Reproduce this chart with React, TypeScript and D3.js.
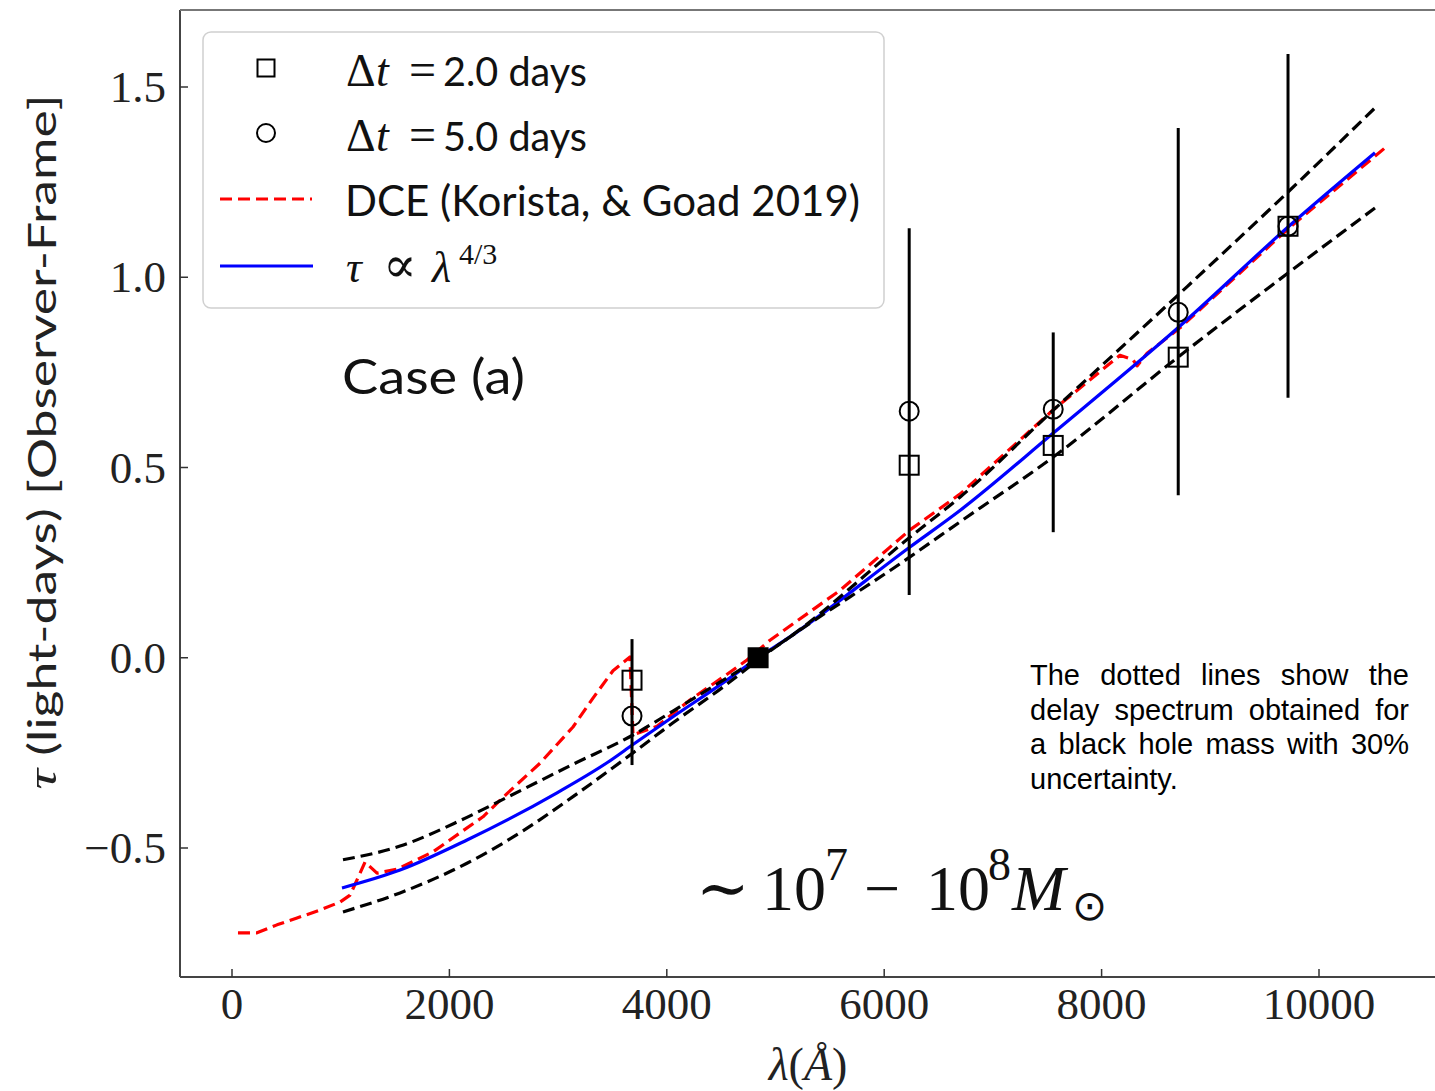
import React, { useLayoutEffect, useRef } from 'react';
import * as d3 from 'd3';

// ---------- data ----------
const xTicks = [0, 2000, 4000, 6000, 8000, 10000];
const yTicks = [-0.5, 0.0, 0.5, 1.0, 1.5];
const yTickLabels = ['\u22120.5', '0.0', '0.5', '1.0', '1.5'];

// DCE (Korista & Goad 2019) – red dashed
const dceCurve: [number, number][] = [
  [55, -0.723], [230, -0.723], [414, -0.702], [598, -0.684], [810, -0.663],
  [994, -0.642], [1086, -0.624], [1178, -0.566], [1224, -0.537], [1334, -0.566],
  [1518, -0.556], [1849, -0.510], [2309, -0.418], [2530, -0.357], [2834, -0.277],
  [3137, -0.182], [3321, -0.106], [3505, -0.034], [3661, 0.002], [3689, -0.203],
  [3910, -0.180], [4213, -0.111], [4517, -0.051], [4738, -0.006], [4949, 0.046],
  [5593, 0.177], [6237, 0.336], [6697, 0.430], [7553, 0.651], [8169, 0.795],
  [8289, 0.783], [8326, 0.767], [8418, 0.800], [8721, 0.867], [9715, 1.127],
  [10607, 1.340],
];

// tau ∝ lambda^(4/3) – blue solid
const powerCurve: [number, number][] = [
  [1012, -0.605], [1546, -0.558], [2162, -0.479], [2990, -0.355], [3450, -0.276],
  [3689, -0.228], [4057, -0.155], [4517, -0.066], [4839, 0.0], [5133, 0.055],
  [6237, 0.291], [6697, 0.387], [7553, 0.590], [8721, 0.872], [9715, 1.132],
  [10515, 1.327],
];

// mass uncertainty envelope – black dashed
const upperCurve: [number, number][] = [
  [1021, -0.531], [1546, -0.495], [2098, -0.428], [2530, -0.367], [3137, -0.280],
  [3689, -0.203], [4057, -0.140], [4370, -0.085], [4673, -0.032], [5133, 0.055],
  [6237, 0.317], [6697, 0.422], [7553, 0.650], [8703, 0.953], [9715, 1.224],
  [10515, 1.445],
];
const lowerCurve: [number, number][] = [
  [1021, -0.668], [1546, -0.618], [2162, -0.540], [2677, -0.455], [3137, -0.365],
  [3689, -0.250], [4057, -0.171], [4517, -0.077], [4839, -0.006], [6237, 0.265],
  [6697, 0.357], [7553, 0.527], [8703, 0.790], [9715, 1.011], [10515, 1.182],
];

// photometric bands
const bandLambda = [3680, 6230, 7555, 8705, 9715];
const errLow = [-0.282, 0.165, 0.330, 0.427, 0.683];
const errHigh = [0.049, 1.129, 0.855, 1.392, 1.587];
const squareLambda = [3680, 6230, 7555, 8705, 9715];
const squareTau = [-0.059, 0.506, 0.558, 0.790, 1.134];
const circleLambda = [3680, 6230, 7555, 8705, 9715];
const circleTau = [-0.153, 0.648, 0.653, 0.908, 1.134];
const refLambda = 4840;
const refTau = 0.0;

const noteLines = [
  'The dotted lines show the',
  'delay spectrum obtained for',
  'a black hole mass with 30%',
  'uncertainty.',
];

// ---------- layout ----------
const W = 1435;
const H = 1091;
const plotLeft = 180;
const plotTop = 10;
const plotBottom = 977;
const plotRight = 1435;

const SERIF = '"Liberation Serif", "DejaVu Serif", serif';
const SANS = 'Lato, "Open Sans", sans-serif';

export default function App() {
  const x = d3.scaleLinear().domain([0, 10000]).range([232, 1319]);
  const y = d3.scaleLinear().domain([-0.5, 1.5]).range([848, 87]);
  const smooth = d3
    .line<[number, number]>()
    .x((d) => x(d[0]))
    .y((d) => y(d[1]))
    .curve(d3.curveMonotoneX);
  const straight = d3
    .line<[number, number]>()
    .x((d) => x(d[0]))
    .y((d) => y(d[1]));

  const noteRefs = useRef<(SVGTextElement | null)[]>([]);
  const noteLeft = 1030;
  const noteWidth = 379;
  useLayoutEffect(() => {
    noteRefs.current.forEach((el, i) => {
      if (!el || i === noteLines.length - 1) return;
      el.style.wordSpacing = '0px';
      const natural = el.getComputedTextLength();
      const gaps = noteLines[i].split(' ').length - 1;
      el.style.wordSpacing = `${(noteWidth - natural) / gaps}px`;
    });
  }, []);

  const sq = 19;
  const legendSq = 17;

  return (
    <svg
      width={W}
      height={H}
      style={{ position: 'absolute', left: 0, top: 0, background: '#fff' }}
    >
      <rect x={0} y={0} width={W} height={H} fill="#fff" />

      {/* curves */}
      <g fill="none" strokeLinecap="butt" strokeLinejoin="round">
        <path d={straight(dceCurve) || ''} stroke="#ff0000" strokeWidth={3.2} strokeDasharray="12,6" />
        <path d={smooth(powerCurve) || ''} stroke="#0000ff" strokeWidth={3.2} />
        <path d={smooth(upperCurve) || ''} stroke="#000" strokeWidth={3.2} strokeDasharray="12,6" />
        <path d={smooth(lowerCurve) || ''} stroke="#000" strokeWidth={3.2} strokeDasharray="12,6" />
      </g>

      {/* error bars */}
      {bandLambda.map((l, i) => (
        <line
          key={'e' + i}
          x1={x(l)}
          x2={x(l)}
          y1={y(errLow[i])}
          y2={y(errHigh[i])}
          stroke="#000"
          strokeWidth={3}
        />
      ))}

      {/* markers */}
      {squareLambda.map((l, i) => (
        <rect
          key={'s' + i}
          x={x(l) - sq / 2}
          y={y(squareTau[i]) - sq / 2}
          width={sq}
          height={sq}
          fill="none"
          stroke="#000"
          strokeWidth={2}
        />
      ))}
      {circleLambda.map((l, i) => (
        <circle
          key={'c' + i}
          cx={x(l)}
          cy={y(circleTau[i])}
          r={9.5}
          fill="none"
          stroke="#000"
          strokeWidth={2}
        />
      ))}
      <rect
        x={x(refLambda) - 10.5}
        y={y(refTau) - 10.5}
        width={21}
        height={21}
        fill="#000"
      />

      {/* spines */}
      <g stroke="#444" strokeWidth={2} fill="none">
        <line x1={plotLeft} x2={plotLeft} y1={plotTop} y2={plotBottom} />
        <line x1={plotLeft} x2={plotRight} y1={plotBottom} y2={plotBottom} />
        <line x1={plotLeft} x2={plotRight} y1={plotTop} y2={plotTop} stroke="#777" />
      </g>

      {/* ticks */}
      {xTicks.map((t) => (
        <g key={'xt' + t}>
          <line x1={x(t)} x2={x(t)} y1={plotBottom} y2={plotBottom - 8} stroke="#333" strokeWidth={1.5} />
          <text
            x={x(t)}
            y={1019}
            textAnchor="middle"
            fontFamily={SERIF}
            fontSize={45}
            fill="#222"
          >
            {t}
          </text>
        </g>
      ))}
      {yTicks.map((t, i) => (
        <g key={'yt' + t}>
          <line x1={plotLeft} x2={plotLeft + 8} y1={y(t)} y2={y(t)} stroke="#333" strokeWidth={1.5} />
          <text
            x={166}
            y={y(t) + 15}
            textAnchor="end"
            fontFamily={SERIF}
            fontSize={45}
            fill="#222"
          >
            {yTickLabels[i]}
          </text>
        </g>
      ))}

      {/* axis labels */}
      <text
        transform="translate(56,442) rotate(-90)"
        textAnchor="middle"
        fontSize={38}
        fill="#222"
        textLength={695}
        lengthAdjust="spacingAndGlyphs"
      >
        <tspan fontFamily={SERIF} fontStyle="italic" fontSize={42}>τ</tspan>
        <tspan fontFamily={SANS}> (light-days) [Observer-Frame]</tspan>
      </text>
      <text x={808} y={1080} textAnchor="middle" fontFamily={SERIF} fontSize={46} fill="#222">
        <tspan fontStyle="italic">λ</tspan>
        <tspan>(</tspan>
        <tspan fontStyle="italic">Å</tspan>
        <tspan>)</tspan>
      </text>

      {/* legend */}
      <rect x={203} y={32} width={681} height={276} rx={8} fill="#fff" fillOpacity={0.85} stroke="#d0d0d0" strokeWidth={1.5} />
      <rect x={266 - legendSq / 2} y={68 - legendSq / 2} width={legendSq} height={legendSq} fill="none" stroke="#000" strokeWidth={2} />
      <circle cx={266} cy={133} r={9} fill="none" stroke="#000" strokeWidth={2} />
      <line x1={220} x2={312} y1={199} y2={199} stroke="#ff0000" strokeWidth={3} strokeDasharray="12,6" />
      <line x1={220} x2={313} y1={266} y2={266} stroke="#0000ff" strokeWidth={3} />

      {[{ base: 86, val: '2.0 days' }, { base: 151, val: '5.0 days' }].map((r) => (
        <g key={r.val} fill="#111">
          <text x={346} y={r.base} fontFamily={SERIF} fontSize={46}>Δ</text>
          <text x={376} y={r.base} fontFamily={SERIF} fontSize={46} fontStyle="italic">t</text>
          <text x={409} y={r.base} fontFamily={SERIF} fontSize={48}>=</text>
          <text x={443} y={r.base} fontFamily={SANS} fontSize={40} textLength={144} lengthAdjust="spacingAndGlyphs">{r.val}</text>
        </g>
      ))}
      <text x={345} y={216} fontFamily={SANS} fontSize={42} fill="#111" textLength={515} lengthAdjust="spacingAndGlyphs">
        DCE (Korista, &amp; Goad 2019)
      </text>
      <g fill="#111" fontFamily={SERIF}>
        <text x={346} y={282} fontSize={44} fontStyle="italic">τ</text>
        <text x={383} y={282} fontSize={50}>∝</text>
        <text x={432} y={282} fontSize={44} fontStyle="italic">λ</text>
        <text x={459} y={264} fontSize={30}>4/3</text>
      </g>

      {/* Case label */}
      <text x={342} y={394} fontFamily={SANS} fontSize={48} fill="#111" textLength={183} lengthAdjust="spacingAndGlyphs">
        Case (a)
      </text>

      {/* mass annotation */}
      <g fill="#111" fontFamily={SERIF}>
        <text x={696} y={910} fontSize={64}>∼</text>
        <text x={762} y={910} fontSize={64}>10</text>
        <text x={825} y={880} fontSize={46}>7</text>
        <text x={864} y={910} fontSize={64}>−</text>
        <text x={926} y={910} fontSize={64}>10</text>
        <text x={988} y={880} fontSize={46}>8</text>
        <text x={1012} y={910} fontSize={64} fontStyle="italic">M</text>
        <text x={1072} y={920} fontSize={42} fontFamily='"DejaVu Sans", sans-serif'>⊙</text>
      </g>

      {/* note */}
      {noteLines.map((t, i) => (
        <text
          key={'n' + i}
          ref={(el) => {
            noteRefs.current[i] = el;
          }}
          x={noteLeft}
          y={685 + i * 34.5}
          fontFamily='"Liberation Sans", Arial, sans-serif'
          fontSize={29}
          fill="#000"
        >
          {t}
        </text>
      ))}
    </svg>
  );
}
